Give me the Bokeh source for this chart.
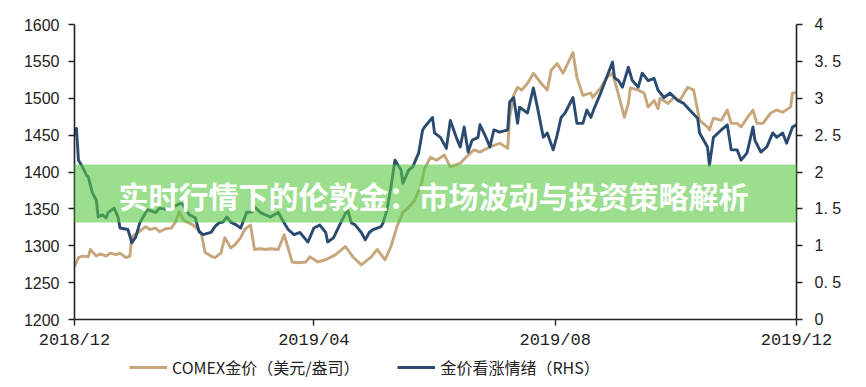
import pandas as pd
from bokeh.plotting import figure
from bokeh.layouts import column
from bokeh.models import (Range1d, LinearAxis, FixedTicker, DatetimeTickFormatter,
                          Legend, LegendItem, BoxAnnotation, Label, ColumnDataSource)
from bokeh.embed import file_html
from bokeh.resources import INLINE

# ---------------- data ----------------
start_date = "2018-12-01"
end_date = "2019-12-01"
x_tick_dates = ["2018-12-01", "2019-04-01", "2019-08-01", "2019-12-01"]

gold_days = [0, 2, 4, 7, 8, 11, 13, 16, 18, 21, 23, 26, 28, 29, 32, 36, 38, 41, 43, 46,
             49, 51, 53, 55, 57, 60, 64, 66, 69, 71, 74, 76, 79, 81, 84, 86, 89, 91, 94, 97,
             99, 103, 106, 108, 110, 113, 117, 119, 123, 127, 132, 137, 141, 145, 150, 153, 157, 160, 163, 166,
             170, 172, 175, 177, 180, 183, 187, 190, 195, 199, 202, 205, 210, 215, 219, 220, 222, 224, 226, 229,
             232, 236, 239, 241, 244, 247, 252, 254, 257, 261, 262, 266, 269, 272, 274, 278, 280, 281, 285, 288,
             290, 293, 295, 296, 300, 303, 306, 310, 313, 315, 316, 320, 321, 323, 327, 330, 332, 335, 337, 340,
             343, 345, 348, 352, 355, 358, 362, 363, 365]
gold_price = [1272, 1284, 1286, 1285, 1295, 1286, 1289, 1286, 1290, 1288, 1290, 1284, 1286, 1312, 1318, 1326, 1322, 1324, 1319, 1323,
              1324, 1332, 1346, 1335, 1332, 1328, 1318, 1291, 1286, 1284, 1290, 1311, 1297, 1301, 1311, 1322, 1328, 1295, 1296, 1295,
              1296, 1295, 1315, 1297, 1278, 1277, 1278, 1285, 1278, 1281, 1288, 1299, 1284, 1274, 1285, 1295, 1281, 1299, 1326, 1345,
              1355, 1362, 1380, 1405, 1420, 1416, 1423, 1407, 1412, 1423, 1430, 1427, 1434, 1439, 1432, 1474, 1504, 1515, 1511, 1520,
              1534, 1520, 1511, 1538, 1547, 1534, 1562, 1528, 1504, 1507, 1501, 1514, 1528, 1534, 1515, 1474, 1493, 1514, 1511, 1507,
              1488, 1497, 1486, 1500, 1493, 1501, 1497, 1515, 1511, 1484, 1470, 1461, 1457, 1473, 1470, 1484, 1466, 1466, 1461, 1473,
              1484, 1466, 1466, 1480, 1484, 1481, 1488, 1507, 1508]

sent_days = [0, 1, 2, 4, 6, 7, 9, 11, 12, 14, 16, 17, 20, 22, 23, 27, 29, 31, 33, 36,
             37, 41, 43, 47, 50, 54, 56, 58, 61, 63, 65, 69, 71, 73, 75, 77, 79, 82, 84, 85,
             87, 90, 91, 94, 99, 103, 106, 108, 111, 114, 118, 121, 124, 127, 128, 131, 134, 138, 140, 142,
             145, 147, 149, 151, 155, 156, 158, 160, 162, 165, 166, 169, 171, 174, 176, 177, 181, 182, 185, 188,
             190, 193, 195, 197, 199, 201, 204, 205, 208, 210, 212, 215, 219, 220, 222, 224, 225, 229, 232, 234,
             237, 239, 242, 244, 246, 248, 252, 254, 257, 259, 261, 263, 266, 269, 272, 273, 275, 277, 280, 282,
             285, 287, 290, 293, 295, 298, 301, 305, 308, 311, 315, 316, 320, 321, 323, 327, 330, 332, 335, 337,
             340, 343, 344, 347, 350, 353, 355, 358, 360, 363, 365]
sentiment = [2.50, 2.59, 2.16, 2.07, 1.96, 1.93, 1.72, 1.62, 1.39, 1.42, 1.38, 1.45, 1.51, 1.39, 1.24, 1.22, 1.04, 1.12, 1.31, 1.45,
             1.49, 1.45, 1.51, 1.49, 1.53, 1.58, 1.51, 1.42, 1.38, 1.19, 1.15, 1.18, 1.26, 1.31, 1.32, 1.39, 1.32, 1.28, 1.24, 1.31,
             1.45, 1.46, 1.53, 1.45, 1.39, 1.45, 1.31, 1.22, 1.15, 1.18, 1.05, 1.24, 1.28, 1.18, 1.05, 1.11, 1.28, 1.49, 1.31, 1.28,
             1.18, 1.08, 1.18, 1.22, 1.26, 1.31, 1.49, 1.80, 2.16, 2.03, 1.85, 2.03, 2.07, 2.26, 2.57, 2.61, 2.74, 2.53, 2.47, 2.32,
             2.70, 2.47, 2.34, 2.61, 2.27, 2.43, 2.47, 2.64, 2.47, 2.34, 2.57, 2.54, 2.57, 2.95, 3.01, 2.66, 2.88, 2.80, 3.14, 2.88,
             2.47, 2.53, 2.30, 2.50, 2.74, 2.80, 3.01, 2.66, 2.66, 2.84, 2.74, 2.88, 3.07, 3.28, 3.49, 3.28, 3.24, 3.15, 3.42, 3.24,
             3.15, 3.34, 3.24, 3.27, 3.11, 3.01, 3.07, 2.97, 2.93, 2.84, 2.73, 2.53, 2.34, 2.09, 2.47, 2.57, 2.64, 2.30, 2.30, 2.16,
             2.26, 2.61, 2.43, 2.27, 2.34, 2.53, 2.47, 2.53, 2.39, 2.61, 2.64]

left_ticks = [1200, 1250, 1300, 1350, 1400, 1450, 1500, 1550, 1600]
right_ticks = [0, 0.5, 1, 1.5, 2, 2.5, 3, 3.5, 4]
right_labels = ["0", "0. 5", "1", "1. 5", "2", "2. 5", "3", "3. 5", "4"]

legend_labels = ["COMEX金价（美元/盎司）", "金价看涨情绪（RHS）"]
banner_text = "实时行情下的伦敦金：市场波动与投资策略解析"

# ---------------- build ----------------
t0 = pd.Timestamp(start_date)
gold_src = ColumnDataSource(dict(x=t0 + pd.to_timedelta(gold_days, unit="D"), y=gold_price))
sent_src = ColumnDataSource(dict(x=t0 + pd.to_timedelta(sent_days, unit="D"), y=sentiment))

TAN = "#C6A67A"
NAVY = "#2A4A70"
AX = "#222222"
LW = 2.9

p = figure(width=866, height=352, x_axis_type="datetime", output_backend="svg",
           toolbar_location=None,
           x_range=Range1d(pd.Timestamp(start_date), pd.Timestamp(end_date)),
           y_range=Range1d(1200, 1600),
           min_border_left=74, min_border_right=70, min_border_top=24, min_border_bottom=32)
p.outline_line_color = None
p.xgrid.visible = False
p.ygrid.visible = False
p.background_fill_color = "white"
p.border_fill_color = "white"

p.extra_y_ranges = {"rhs": Range1d(0, 4)}

p.line("x", "y", source=gold_src, line_color=TAN, line_width=LW, line_join="round")
p.line("x", "y", source=sent_src, line_color=NAVY, line_width=LW, line_join="round",
       y_range_name="rhs")

rax = LinearAxis(y_range_name="rhs")
p.add_layout(rax, "right")

# x axis
xa = p.xaxis[0]
xa.ticker = FixedTicker(ticks=[pd.Timestamp(d).value // 10**6 for d in x_tick_dates])
fmt = "%Y/%m"
xa.formatter = DatetimeTickFormatter(years=fmt, months=fmt, days=fmt, hours=fmt)
xa.major_label_text_font = "Liberation Mono"
xa.major_label_text_font_size = "17px"
xa.major_label_standoff = 5

# left axis
ya = p.yaxis[0]
ya.ticker = FixedTicker(ticks=left_ticks)
ya.major_label_text_font = "Liberation Sans"
ya.major_label_text_font_size = "16px"
ya.major_label_standoff = 9

# right axis
rax.ticker = FixedTicker(ticks=right_ticks)
rax.major_label_overrides = {t: l for t, l in zip(right_ticks, right_labels)}
rax.major_label_text_font = "Liberation Sans"
rax.major_label_text_font_size = "16px"
rax.major_label_standoff = 12

for ax in (xa, ya, rax):
    ax.axis_line_color = AX
    ax.axis_line_width = 1.6
    ax.major_tick_line_color = AX
    ax.major_tick_line_width = 1.4
    ax.major_tick_out = 6
    ax.major_tick_in = 0
    ax.minor_tick_line_color = None
    ax.major_label_text_color = AX

# overlay banner
banner = BoxAnnotation(left=0, right=866, top=164, bottom=222,
                       left_units="canvas", right_units="canvas",
                       top_units="canvas", bottom_units="canvas",
                       fill_color="#58C843", fill_alpha=0.6, line_color=None)
p.add_layout(banner)
title = Label(x=433, y=194, x_units="canvas", y_units="canvas", text=banner_text,
              text_align="center", text_baseline="middle",
              text_font="Noto Sans CJK SC", text_font_style="bold",
              text_font_size="30px", text_color="white")
p.add_layout(title)

# ---------------- legend strip below ----------------
# Same series drawn again in a thin strip whose ranges keep them out of view;
# they only serve as the legend's key glyphs.
lg = figure(width=866, height=35, output_backend="svg", toolbar_location=None,
            x_range=Range1d(0, 1), y_range=Range1d(0, 1),
            min_border=0, x_axis_location=None, y_axis_location=None)
lg.outline_line_color = None
lg.xgrid.visible = False
lg.ygrid.visible = False
lg.border_fill_color = "white"
lg.background_fill_color = "white"
k_gold = lg.line("x", "y", source=gold_src, line_color=TAN, line_width=3)
k_sent = lg.line("x", "y", source=sent_src, line_color=NAVY, line_width=3)
legend = Legend(items=[LegendItem(label=legend_labels[0], renderers=[k_gold]),
                       LegendItem(label=legend_labels[1], renderers=[k_sent])],
                orientation="horizontal", location=(55, 8),
                glyph_width=38, glyph_height=16, label_standoff=5, spacing=38,
                padding=4, margin=0, border_line_color=None, background_fill_alpha=0,
                label_text_font="Noto Sans CJK SC", label_text_font_size="16px",
                label_text_color=AX)
lg.add_layout(legend, "center")

layout = column(p, lg, spacing=0)
open("out.html", "w").write(file_html(layout, INLINE))
